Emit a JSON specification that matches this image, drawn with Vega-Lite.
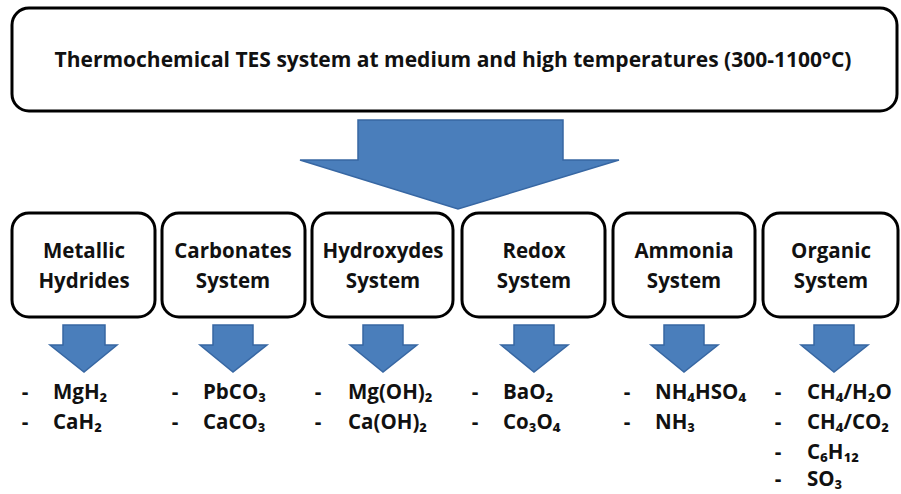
{
  "$schema": "https://vega.github.io/schema/vega-lite/v6.json",
  "width": 901,
  "height": 494,
  "padding": 0,
  "autosize": {"type": "fit", "contains": "padding"},
  "background": "white",
  "config": {"view": {"stroke": null}},
  "datasets": {
    "boxes": [
      {"name": "top", "x1": 12, "x2": 897, "y1": 8, "y2": 111},
      {"name": "Metallic Hydrides", "x1": 12, "x2": 155, "y1": 213, "y2": 317},
      {"name": "Carbonates System", "x1": 162, "x2": 305, "y1": 213, "y2": 317},
      {"name": "Hydroxydes System", "x1": 312, "x2": 453, "y1": 213, "y2": 317},
      {"name": "Redox System", "x1": 462, "x2": 605, "y1": 213, "y2": 317},
      {"name": "Ammonia System", "x1": 613, "x2": 755, "y1": 213, "y2": 317},
      {"name": "Organic System", "x1": 763, "x2": 898, "y1": 213, "y2": 317}
    ],
    "arrows": [
      {"id": "main", "ord": 1, "x": 358, "y": 120},
      {"id": "main", "ord": 2, "x": 563, "y": 120},
      {"id": "main", "ord": 3, "x": 563, "y": 160},
      {"id": "main", "ord": 4, "x": 619, "y": 160},
      {"id": "main", "ord": 5, "x": 458, "y": 209},
      {"id": "main", "ord": 6, "x": 300, "y": 160},
      {"id": "main", "ord": 7, "x": 358, "y": 160},
      {"id": "a1", "ord": 1, "x": 63, "y": 325},
      {"id": "a1", "ord": 2, "x": 105, "y": 325},
      {"id": "a1", "ord": 3, "x": 105, "y": 345},
      {"id": "a1", "ord": 4, "x": 117, "y": 345},
      {"id": "a1", "ord": 5, "x": 84, "y": 372},
      {"id": "a1", "ord": 6, "x": 50, "y": 345},
      {"id": "a1", "ord": 7, "x": 63, "y": 345},
      {"id": "a2", "ord": 1, "x": 213, "y": 325},
      {"id": "a2", "ord": 2, "x": 253, "y": 325},
      {"id": "a2", "ord": 3, "x": 253, "y": 345},
      {"id": "a2", "ord": 4, "x": 267, "y": 345},
      {"id": "a2", "ord": 5, "x": 233, "y": 372},
      {"id": "a2", "ord": 6, "x": 200, "y": 345},
      {"id": "a2", "ord": 7, "x": 213, "y": 345},
      {"id": "a3", "ord": 1, "x": 363, "y": 325},
      {"id": "a3", "ord": 2, "x": 403, "y": 325},
      {"id": "a3", "ord": 3, "x": 403, "y": 345},
      {"id": "a3", "ord": 4, "x": 417, "y": 345},
      {"id": "a3", "ord": 5, "x": 383, "y": 372},
      {"id": "a3", "ord": 6, "x": 350, "y": 345},
      {"id": "a3", "ord": 7, "x": 363, "y": 345},
      {"id": "a4", "ord": 1, "x": 514, "y": 325},
      {"id": "a4", "ord": 2, "x": 554, "y": 325},
      {"id": "a4", "ord": 3, "x": 554, "y": 345},
      {"id": "a4", "ord": 4, "x": 568, "y": 345},
      {"id": "a4", "ord": 5, "x": 534, "y": 372},
      {"id": "a4", "ord": 6, "x": 501, "y": 345},
      {"id": "a4", "ord": 7, "x": 514, "y": 345},
      {"id": "a5", "ord": 1, "x": 664, "y": 325},
      {"id": "a5", "ord": 2, "x": 704, "y": 325},
      {"id": "a5", "ord": 3, "x": 704, "y": 345},
      {"id": "a5", "ord": 4, "x": 718, "y": 345},
      {"id": "a5", "ord": 5, "x": 684, "y": 372},
      {"id": "a5", "ord": 6, "x": 651, "y": 345},
      {"id": "a5", "ord": 7, "x": 664, "y": 345},
      {"id": "a6", "ord": 1, "x": 814, "y": 325},
      {"id": "a6", "ord": 2, "x": 854, "y": 325},
      {"id": "a6", "ord": 3, "x": 854, "y": 345},
      {"id": "a6", "ord": 4, "x": 868, "y": 345},
      {"id": "a6", "ord": 5, "x": 834, "y": 372},
      {"id": "a6", "ord": 6, "x": 801, "y": 345},
      {"id": "a6", "ord": 7, "x": 814, "y": 345}
    ],
    "centered": [
      {"text": "Thermochemical TES system at medium and high temperatures (300-1100°C)", "x": 453, "y": 61, "size": 21},
      {"text": "Metallic", "x": 84, "y": 252, "size": 20.5},
      {"text": "Hydrides", "x": 84, "y": 282, "size": 20.5},
      {"text": "Carbonates", "x": 233, "y": 252, "size": 20.5},
      {"text": "System", "x": 233, "y": 282, "size": 20.5},
      {"text": "Hydroxydes", "x": 383, "y": 252, "size": 20.5},
      {"text": "System", "x": 383, "y": 282, "size": 20.5},
      {"text": "Redox", "x": 534, "y": 252, "size": 20.5},
      {"text": "System", "x": 534, "y": 282, "size": 20.5},
      {"text": "Ammonia", "x": 684, "y": 252, "size": 20.5},
      {"text": "System", "x": 684, "y": 282, "size": 20.5},
      {"text": "Organic", "x": 831, "y": 252, "size": 20.5},
      {"text": "System", "x": 831, "y": 282, "size": 20.5}
    ],
    "items": [
      {"dash": 25, "x": 53, "y": 393, "text": "MgH₂"},
      {"dash": 25, "x": 53, "y": 423, "text": "CaH₂"},
      {"dash": 175, "x": 203, "y": 393, "text": "PbCO₃"},
      {"dash": 175, "x": 203, "y": 423, "text": "CaCO₃"},
      {"dash": 318, "x": 348, "y": 393, "text": "Mg(OH)₂"},
      {"dash": 318, "x": 348, "y": 423, "text": "Ca(OH)₂"},
      {"dash": 475, "x": 503, "y": 393, "text": "BaO₂"},
      {"dash": 475, "x": 503, "y": 423, "text": "Co₃O₄"},
      {"dash": 627, "x": 655, "y": 393, "text": "NH₄HSO₄"},
      {"dash": 627, "x": 655, "y": 423, "text": "NH₃"},
      {"dash": 778, "x": 807, "y": 393, "text": "CH₄/H₂O"},
      {"dash": 778, "x": 807, "y": 423, "text": "CH₄/CO₂"},
      {"dash": 778, "x": 807, "y": 453, "text": "C₆H₁₂"},
      {"dash": 778, "x": 807, "y": 480, "text": "SO₃"}
    ]
  },
  "layer": [
    {
      "data": {"name": "boxes"},
      "mark": {"type": "rect", "fill": "white", "stroke": "black", "strokeWidth": 3, "cornerRadius": 17},
      "encoding": {
        "x": {"field": "x1", "type": "quantitative", "scale": {"domain": [0, 901], "nice": false, "zero": false}, "axis": null},
        "x2": {"field": "x2"},
        "y": {"field": "y1", "type": "quantitative", "scale": {"domain": [0, 494], "nice": false, "zero": false, "reverse": true}, "axis": null},
        "y2": {"field": "y2"}
      }
    },
    {
      "data": {"name": "arrows"},
      "mark": {"type": "line", "interpolate": "linear-closed", "fill": "#4A7EBB", "stroke": "#3767A3", "strokeWidth": 1.5},
      "encoding": {
        "x": {"field": "x", "type": "quantitative", "scale": {"domain": [0, 901], "nice": false, "zero": false}, "axis": null},
        "y": {"field": "y", "type": "quantitative", "scale": {"domain": [0, 494], "nice": false, "zero": false, "reverse": true}, "axis": null},
        "detail": {"field": "id"},
        "order": {"field": "ord", "type": "quantitative"}
      }
    },
    {
      "data": {"name": "centered"},
      "mark": {"type": "text", "align": "center", "baseline": "middle", "font": "Open Sans, Noto Sans, DejaVu Sans", "fontWeight": "bold", "color": "#111"},
      "encoding": {
        "x": {"field": "x", "type": "quantitative", "scale": {"domain": [0, 901], "nice": false, "zero": false}, "axis": null},
        "y": {"field": "y", "type": "quantitative", "scale": {"domain": [0, 494], "nice": false, "zero": false, "reverse": true}, "axis": null},
        "size": {"field": "size", "type": "quantitative", "scale": null, "legend": null},
        "text": {"field": "text"}
      }
    },
    {
      "data": {"name": "items"},
      "mark": {"type": "text", "align": "center", "baseline": "middle", "font": "Open Sans, Noto Sans, DejaVu Sans", "fontWeight": "bold", "fontSize": 20.5, "color": "#111"},
      "encoding": {
        "x": {"field": "dash", "type": "quantitative", "scale": {"domain": [0, 901], "nice": false, "zero": false}, "axis": null},
        "y": {"field": "y", "type": "quantitative", "scale": {"domain": [0, 494], "nice": false, "zero": false, "reverse": true}, "axis": null},
        "text": {"value": "-"}
      }
    },
    {
      "data": {"name": "items"},
      "mark": {"type": "text", "align": "left", "baseline": "middle", "font": "Open Sans, Noto Sans, DejaVu Sans", "fontWeight": "bold", "fontSize": 20.5, "color": "#111"},
      "encoding": {
        "x": {"field": "x", "type": "quantitative", "scale": {"domain": [0, 901], "nice": false, "zero": false}, "axis": null},
        "y": {"field": "y", "type": "quantitative", "scale": {"domain": [0, 494], "nice": false, "zero": false, "reverse": true}, "axis": null},
        "text": {"field": "text"}
      }
    }
  ]
}
